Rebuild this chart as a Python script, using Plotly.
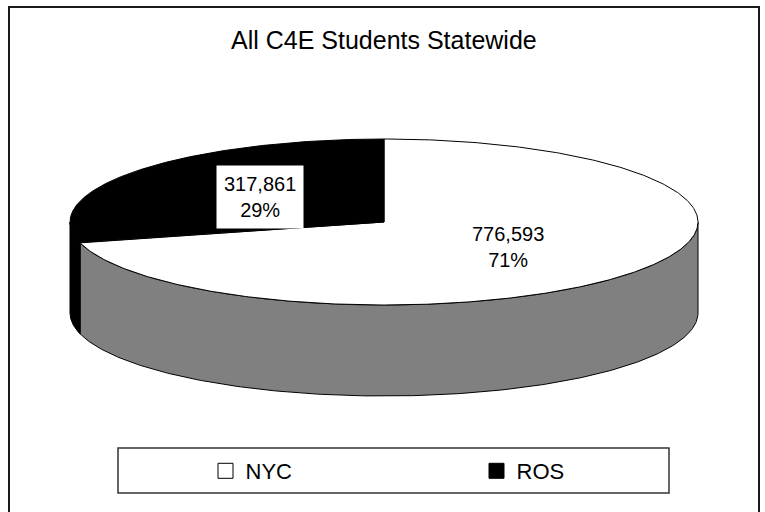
import numpy as np
import plotly.graph_objects as go

# ---- data ----
categories = ["NYC", "ROS"]
values = [776593, 317861]
title_text = "All C4E Students Statewide"

# ---- style ----
top_colors = ["#ffffff", "#000000"]
side_colors = ["#808080", "#000000"]
legend_fill = ["#ffffff", "#000000"]
W, H = 765, 512
CX, CY, RX, RY, DEPTH = 384, 222, 314, 83, 91
FONT = "Liberation Sans, Arial, sans-serif"


def pt(theta_deg, dy=0.0):
    t = np.radians(theta_deg)
    return CX + RX * np.sin(t), CY - RY * np.cos(t) + dy


total = float(sum(values))
shares = [v / total for v in values]
starts = np.concatenate([[0.0], np.cumsum(shares)[:-1]]) * 360.0
ends = np.cumsum(shares) * 360.0

fig = go.Figure()

# side walls (front half: 90..270 deg clockwise from 12 o'clock)
for i, (a, b) in enumerate(zip(starts, ends)):
    lo, hi = max(a, 90.0), min(b, 270.0)
    if hi <= lo:
        continue
    th = np.linspace(lo, hi, 200)
    xt, yt = pt(th)
    xb, yb = pt(th[::-1], DEPTH)
    xs = np.concatenate([xt, xb, xt[:1]])
    ys = np.concatenate([yt, yb, yt[:1]])
    fig.add_trace(go.Scatter(x=xs, y=ys, mode="lines", fill="toself",
                             fillcolor=side_colors[i],
                             line=dict(color="black", width=1),
                             hoverinfo="skip", showlegend=False))

# top faces
for i, (a, b) in enumerate(zip(starts, ends)):
    th = np.linspace(a, b, 400)
    xa, ya = pt(th)
    xs = np.concatenate([[CX], xa, [CX]])
    ys = np.concatenate([[CY], ya, [CY]])
    fig.add_trace(go.Scatter(x=xs, y=ys, mode="lines", fill="toself",
                             fillcolor=top_colors[i],
                             line=dict(color="black", width=1),
                             hoverinfo="skip", showlegend=False))

# legend entries
for i, name in enumerate(categories):
    fig.add_trace(go.Scatter(x=[None], y=[None], mode="markers", name=name,
                             marker=dict(symbol="square", size=15,
                                         color=legend_fill[i],
                                         line=dict(color="black", width=1))))

# data labels
for i, v in enumerate(values):
    mid = (starts[i] + ends[i]) / 2.0
    t = np.radians(mid)
    lx = CX + 0.5 * RX * np.sin(t)
    ly = CY - 0.5 * RY * np.cos(t)
    txt = f"{v:,}<br>{shares[i]*100:.0f}%"
    fig.add_annotation(x=lx, y=ly, xref="x", yref="y", text=txt,
                       showarrow=False,
                       font=dict(family=FONT, size=20, color="black"),
                       bgcolor="white" if top_colors[i] != "#ffffff" else "rgba(0,0,0,0)",
                       borderpad=7)

# title
fig.add_annotation(x=384, y=40, xref="x", yref="y", text=title_text,
                   showarrow=False,
                   font=dict(family=FONT, size=25, color="black"))

# chart border and legend box
fig.add_shape(type="rect", xref="x", yref="y", x0=9, y0=7, x1=759, y1=520,
              line=dict(color="#1a1a1a", width=2), fillcolor="rgba(0,0,0,0)")
fig.add_shape(type="rect", xref="x", yref="y", x0=118, y0=448, x1=669, y1=493,
              line=dict(color="#333333", width=1.5), fillcolor="rgba(0,0,0,0)")

fig.update_layout(
    width=W, height=H, autosize=False,
    margin=dict(l=0, r=0, t=0, b=0, pad=0),
    paper_bgcolor="white", plot_bgcolor="white",
    xaxis=dict(range=[0, W], visible=False, fixedrange=True),
    yaxis=dict(range=[H, 0], visible=False, fixedrange=True),
    showlegend=True,
    legend=dict(orientation="h", x=(225.5 - 20) / W, xanchor="left",
                y=1 - 471 / H, yanchor="middle",
                entrywidth=226, entrywidthmode="pixels",
                font=dict(family=FONT, size=22, color="black"),
                bgcolor="rgba(0,0,0,0)", borderwidth=0,
                itemclick=False, itemdoubleclick=False),
    hovermode=False,
)

fig.write_html("out.html", config={"displayModeBar": False})
